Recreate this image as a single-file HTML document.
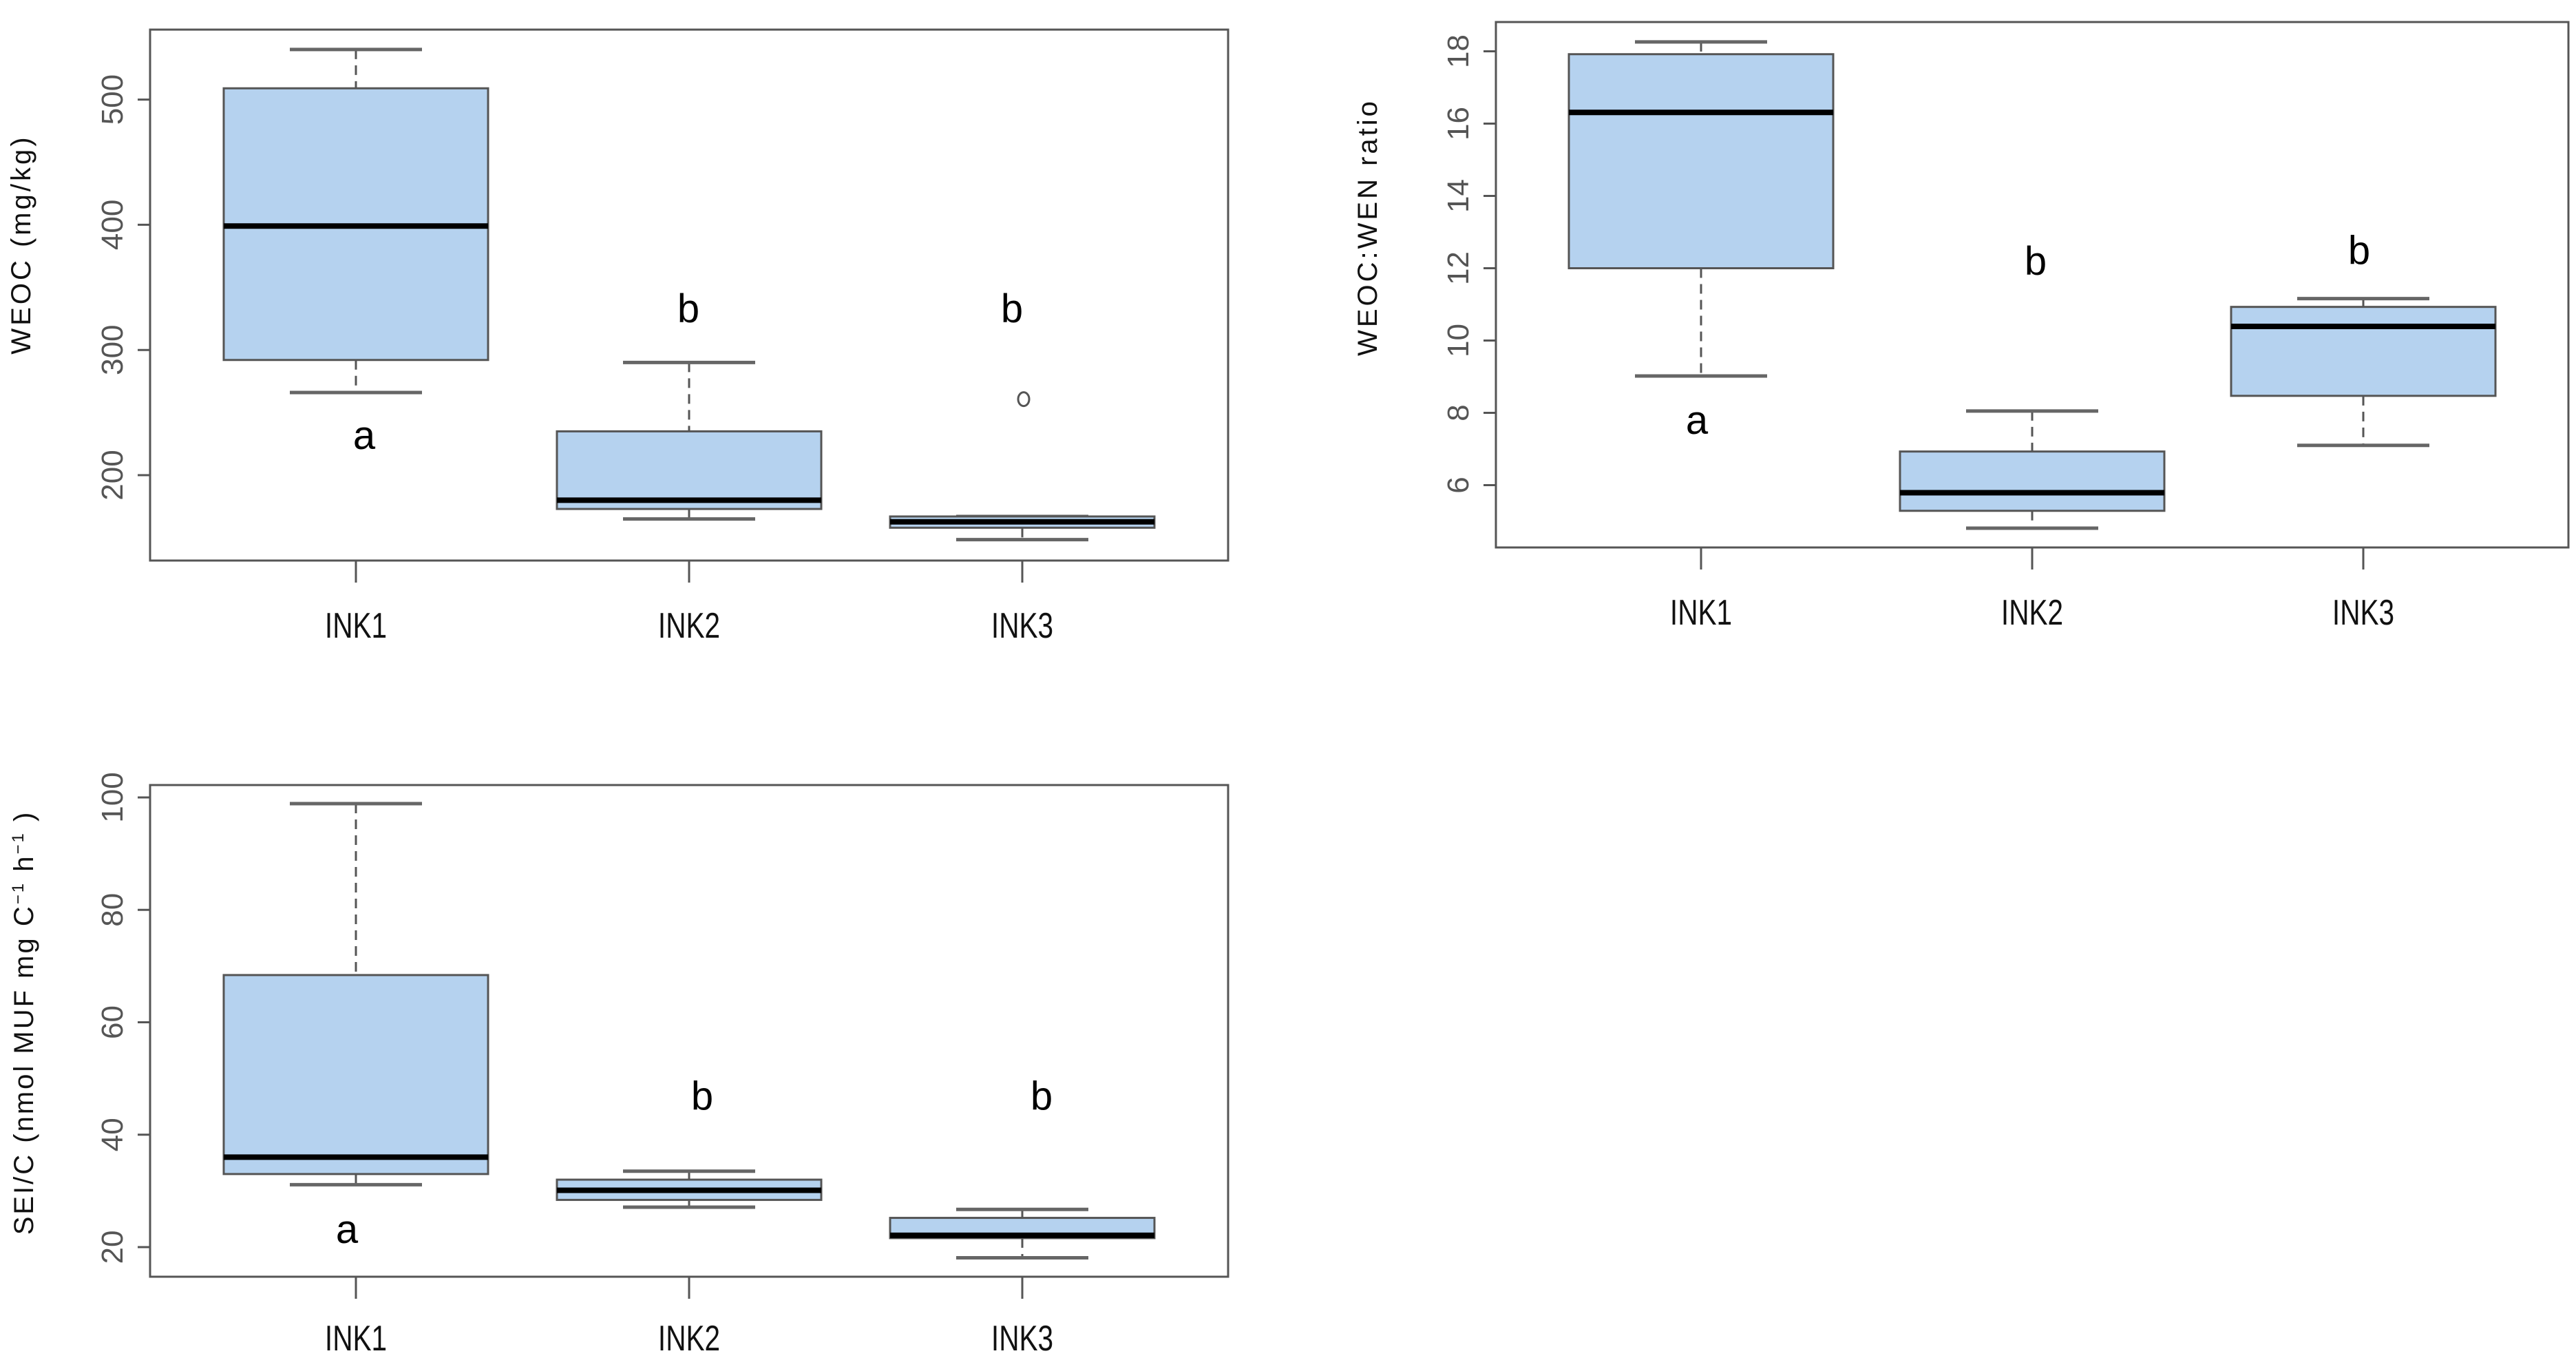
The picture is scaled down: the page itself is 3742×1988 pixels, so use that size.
<!DOCTYPE html>
<html><head><meta charset="utf-8"><style>
html,body{margin:0;padding:0;background:#fff}
svg{display:block}
text{font-family:"Liberation Sans",sans-serif}
</style></head><body>
<svg id="c" width="3742" height="1988" viewBox="0 0 3742 1988" xmlns="http://www.w3.org/2000/svg"></svg>
<script>
const categories = ["INK1","INK2","INK3"];
// [lowerWhisker, Q1, median, Q3, upperWhisker]
const weocStats = [[266,292,399,509,540],[165,173,180,235,290],[148.5,158,162.7,167,167]];
const weocOutliers = [[],[],[260.7]];
const weocLetters = ["a","b","b"];
const weocLetterY = [232,333,333];
const weocTicks = [200,300,400,500];
const ratioStats = [[9.02,12.0,16.31,17.92,18.26],[4.81,5.29,5.79,6.93,8.05],[7.1,8.47,10.39,10.93,11.16]];
const ratioLetters = ["a","b","b"];
const ratioLetterY = [7.8,12.2,12.5];
const ratioTicks = [6,8,10,12,14,16,18];
const seiStats = [[31.1,33.0,36.0,68.4,98.9],[27.1,28.4,30.1,32.0,33.5],[18.1,21.6,22.1,25.2,26.7]];
const seiLetters = ["a","b","b"];
const seiLetterY = [23.2,46.9,46.9];
const seiTicks = [20,40,60,80,100];

const NS="http://www.w3.org/2000/svg";
const svg=document.getElementById('c');
function mk(tag,attrs,parent){const e=document.createElementNS(NS,tag);for(const k in attrs)e.setAttribute(k,attrs[k]);(parent||svg).appendChild(e);return e;}

function panel(cfg){
  const g=mk('g',{});
  
  
  const yy=v=>cfg.y0+(v-cfg.v0)*(cfg.y1-cfg.y0)/(cfg.v1-cfg.v0);
  const x=i=>cfg.xc0+i*cfg.dx;
  const frame=mk('rect',{x:cfg.L,y:cfg.T,width:cfg.R-cfg.L,height:cfg.B-cfg.T,fill:'none',stroke:'#555','stroke-width':3},g);
  
  
  cfg.ticks.forEach(t=>{
    const ty=yy(t);
    const tl=mk('line',{x1:cfg.L-18,x2:cfg.L,y1:ty,y2:ty,stroke:'#555','stroke-width':3},g);
    
    
    const tx=mk('text',{x:0,y:0,transform:`translate(${cfg.L-40},${ty}) rotate(-90)`,'text-anchor':'middle','font-size':44,fill:'#555'},g);
    tx.textContent=t;
    
    
  });
  const yl=mk('text',{x:0,y:0,transform:`translate(${cfg.labX},${cfg.labY}) rotate(-90)`,'text-anchor':'middle','font-size':40,'letter-spacing':cfg.ls,fill:'#111'},g);
  yl.innerHTML=cfg.label;
  
  
  categories.forEach((c,i)=>{
    const cx=x(i), s=cfg.stats[i];
    const tk=mk('line',{x1:cx,x2:cx,y1:cfg.B,y2:cfg.B+32,stroke:'#555','stroke-width':3},g);
    
    
    const xl=mk('text',{x:0,y:0,transform:`translate(${cx},${cfg.xlabY}) scale(0.78,1)`,'text-anchor':'middle','font-size':52,fill:'#111'},g);
    xl.textContent=c;
    
    
    const w1=mk('line',{x1:cx,x2:cx,y1:yy(s[4]),y2:yy(s[3]),stroke:'#555','stroke-width':3,'stroke-dasharray':'14,9'},g);
    
    
    const w2=mk('line',{x1:cx,x2:cx,y1:yy(s[1]),y2:yy(s[0]),stroke:'#555','stroke-width':3,'stroke-dasharray':'14,9'},g);
    
    
    [s[0],s[4]].forEach(v=>{
      const cap=mk('line',{x1:cx-96,x2:cx+96,y1:yy(v),y2:yy(v),stroke:'#666','stroke-width':5},g);
      
      
    });
    const bx=mk('rect',{x:cx-192,y:yy(s[3]),width:384,height:yy(s[1])-yy(s[3]),fill:'#b5d2ef',stroke:'#555','stroke-width':3},g);
    
    
    const md=mk('line',{x1:cx-192,x2:cx+192,y1:yy(s[2]),y2:yy(s[2]),stroke:'#000','stroke-width':8},g);
    
    
    (cfg.outliers?cfg.outliers[i]:[]).forEach(o=>{
      const oc=mk('ellipse',{cx:cx+2,cy:yy(o),rx:8,ry:10,fill:'none',stroke:'#555','stroke-width':3},g);
      
      
    });
    const lt=mk('text',{x:cx+cfg.letterDx[i],y:yy(cfg.letterY[i])+20,'text-anchor':'middle','font-size':58,fill:'#000'},g);
    lt.textContent=cfg.letters[i];
    
    
  });
}

panel({name:'weoc-panel',L:218,R:1784,T:43,B:814,v0:500,y0:144.6,v1:200,y1:690,xc0:517,dx:484,
  ticks:weocTicks,stats:weocStats,outliers:weocOutliers,letters:weocLetters,letterY:weocLetterY,letterDx:[12,-1,-15],
  label:'WEOC (mg/kg)',ls:4,labX:44,labY:355,xlabY:926});
panel({name:'weoc-wen-ratio-panel',L:2173,R:3731,T:32,B:795,v0:18,y0:74.5,v1:6,y1:704.5,xc0:2471,dx:481,
  ticks:ratioTicks,stats:ratioStats,letters:ratioLetters,letterY:ratioLetterY,letterDx:[-6,5,-6],
  label:'WEOC:WEN ratio',ls:4,labX:2000,labY:330,xlabY:907});
panel({name:'sei-c-panel',L:218,R:1784,T:1140,B:1854,v0:100,y0:1158,v1:20,y1:1811,xc0:517,dx:484,
  ticks:seiTicks,stats:seiStats,letters:seiLetters,letterY:seiLetterY,letterDx:[-13,19,28],
  label:'SEI/C (nmol MUF mg C<tspan font-size="24" dy="-14">−1</tspan><tspan dy="14"> h</tspan><tspan font-size="24" dy="-14">−1</tspan><tspan dy="14"> )</tspan>',ls:3,labX:48,labY:1485,xlabY:1961});
</script>
</body></html>
